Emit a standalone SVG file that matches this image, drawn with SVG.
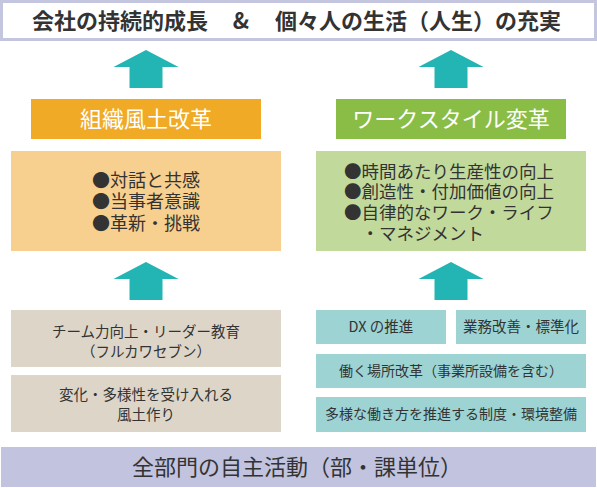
<svg xmlns="http://www.w3.org/2000/svg" width="597" height="488" viewBox="0 0 597 488">
<style>
text{font-family:"Noto Sans CJK JP","Noto Sans",sans-serif;fill:#333;}
.arrow{fill:#22b5b3;}
.c{text-anchor:middle;}
.w{fill:#fff;}
</style>
<defs>
<path id="arr" d="M0,0 L32.5,17 L16.5,17 L16.5,38 L-16.5,38 L-16.5,17 L-32.5,17 Z"/>
</defs>
<rect width="597" height="488" fill="#fff"/>
<g id="goal">
<rect x="1.5" y="1.5" width="594" height="38" fill="#fff" stroke="#c4c5df" stroke-width="3"/>
<text x="32" y="29" font-size="22" font-weight="bold">会社の持続的成長</text>
<text x="241" y="29" font-size="22" font-weight="bold" class="c">&amp;</text>
<text x="275" y="29" font-size="22" font-weight="bold">個々人の生活（人生）の充実</text>
</g>
<g id="connectors">
<use href="#arr" x="146" y="50" class="arrow"/>
<use href="#arr" x="451" y="50" class="arrow"/>
<use href="#arr" x="146" y="262" class="arrow"/>
<use href="#arr" x="451" y="262" class="arrow"/>
</g>
<g id="culture-label">
<rect x="31" y="99" width="230" height="40" fill="#f0aa25"/>
<text x="146" y="127" font-size="22" class="c w">組織風土改革</text>
</g>
<g id="workstyle-label">
<rect x="336" y="99" width="230" height="40" fill="#8abd45"/>
<text x="451" y="127" font-size="22" class="c w">ワークスタイル変革</text>
</g>
<g id="culture-points">
<rect x="11" y="151" width="270" height="100" fill="#f7cf8e"/>
<text x="92" y="186.5" font-size="18">●対話と共感</text>
<text x="92" y="208" font-size="18">●当事者意識</text>
<text x="92" y="229.5" font-size="18">●革新・挑戦</text>
</g>
<g id="workstyle-points">
<rect x="316" y="151" width="270" height="100" fill="#c2d99c"/>
<text x="344" y="177.5" font-size="17.5">●時間あたり生産性の向上</text>
<text x="344" y="198" font-size="17.5">●創造性・付加価値の向上</text>
<text x="344" y="218.5" font-size="17.5">●自律的なワーク・ライフ</text>
<text x="361.5" y="239.5" font-size="17.5">・マネジメント</text>
</g>
<g id="team">
<rect x="11" y="310" width="270" height="57" fill="#ddd6c8"/>
<text x="146" y="337" font-size="14.5" class="c">チーム力向上・リーダー教育</text>
<text x="146" y="357" font-size="14.5" class="c">（フルカワセブン）</text>
</g>
<g id="diversity">
<rect x="11" y="375" width="270" height="57" fill="#ddd6c8"/>
<text x="146" y="400" font-size="14.5" class="c">変化・多様性を受け入れる</text>
<text x="146" y="420" font-size="14.5" class="c">風土作り</text>
</g>
<g id="dx">
<rect x="316" y="310" width="130" height="34" fill="#9dd3d3"/>
<text x="381" y="332" font-size="14.5" class="c">DX の推進</text>
</g>
<g id="kaizen">
<rect x="456" y="310" width="130" height="34" fill="#9dd3d3"/>
<text x="521" y="332" font-size="14.5" class="c">業務改善・標準化</text>
</g>
<g id="workplace">
<rect x="316" y="354" width="270" height="34" fill="#9dd3d3"/>
<text x="451" y="376" font-size="14" class="c">働く場所改革（事業所設備を含む）</text>
</g>
<g id="system">
<rect x="316" y="397" width="270" height="35" fill="#9dd3d3"/>
<text x="451" y="419" font-size="14" class="c">多様な働き方を推進する制度・環境整備</text>
</g>
<g id="base">
<rect x="1" y="447" width="595" height="40" fill="#c2c3de"/>
<text x="297" y="475" font-size="22" class="c">全部門の自主活動（部・課単位）</text>
</g>
</svg>
